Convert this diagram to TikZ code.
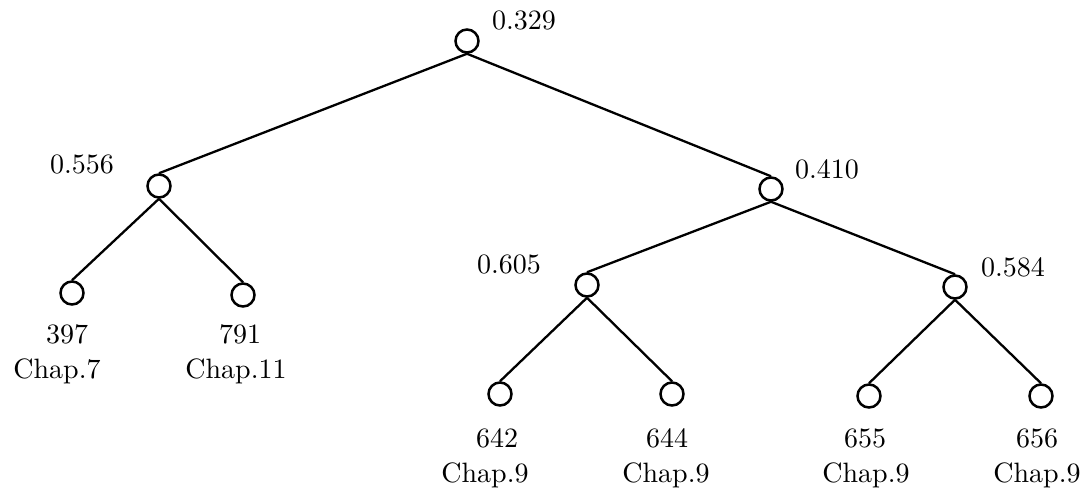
\documentclass[tikz,border=0pt]{standalone}
\usepackage{graphicx}
\newcommand{\bigtxt}[1]{\scalebox{2.8}{#1}}
\begin{document}
\begin{tikzpicture}[x=1pt,y=-1pt,
  vert/.style={circle,draw,line width=2.5pt,minimum size=23pt,inner sep=0pt},
  edge/.style={line width=2.3pt},
  lbl/.style={anchor=base,inner sep=0pt,font=\fontsize{10}{12}\selectfont}]
\useasboundingbox (0,0) rectangle (1092,496);
% vertices
\node[vert] (r) at (467,41) {};
\node[vert] (a) at (159,186) {};
\node[vert] (b) at (771,189) {};
\node[vert] (a1) at (72,293) {};
\node[vert] (a2) at (243,295) {};
\node[vert] (b1) at (587,285) {};
\node[vert] (b2) at (955,287) {};
\node[vert] (b11) at (500,394) {};
\node[vert] (b12) at (672,394) {};
\node[vert] (b21) at (869,396) {};
\node[vert] (b22) at (1041,396) {};
% edges
\draw[edge] (r.south) -- (a.north);
\draw[edge] (r.south) -- (b.north);
\draw[edge] (a.south) -- (a1.north);
\draw[edge] (a.south) -- (a2.north);
\draw[edge] (b.south) -- (b1.north);
\draw[edge] (b.south) -- (b2.north);
\draw[edge] (b1.south) -- (b11.north);
\draw[edge] (b1.south) -- (b12.north);
\draw[edge] (b2.south) -- (b21.north);
\draw[edge] (b2.south) -- (b22.north);
% inner labels
\node[lbl] (lr) at (524,29) {\bigtxt{0.329}};
\node[lbl] (la) at (82,173) {\bigtxt{0.556}};
\node[lbl] (lb) at (827,178) {\bigtxt{0.410}};
\node[lbl] (lb1) at (509,273) {\bigtxt{0.605}};
\node[lbl] (lb2) at (1013,276) {\bigtxt{0.584}};
% leaf labels
\node[lbl] (n1) at (67,343) {\bigtxt{397}};
\node[lbl] (c1) at (57,378) {\bigtxt{Chap.7}};
\node[lbl] (n2) at (240,343) {\bigtxt{791}};
\node[lbl] (c2) at (236,378) {\bigtxt{Chap.11}};
\node[lbl] (n3) at (497,447) {\bigtxt{642}};
\node[lbl] (c3) at (485,482) {\bigtxt{Chap.9}};
\node[lbl] (n4) at (667,447) {\bigtxt{644}};
\node[lbl] (c4) at (666,482) {\bigtxt{Chap.9}};
\node[lbl] (n5) at (865,447) {\bigtxt{655}};
\node[lbl] (c5) at (866,482) {\bigtxt{Chap.9}};
\node[lbl] (n6) at (1037,447) {\bigtxt{656}};
\node[lbl] (c6) at (1037,482) {\bigtxt{Chap.9}};
\end{tikzpicture}
\end{document}
